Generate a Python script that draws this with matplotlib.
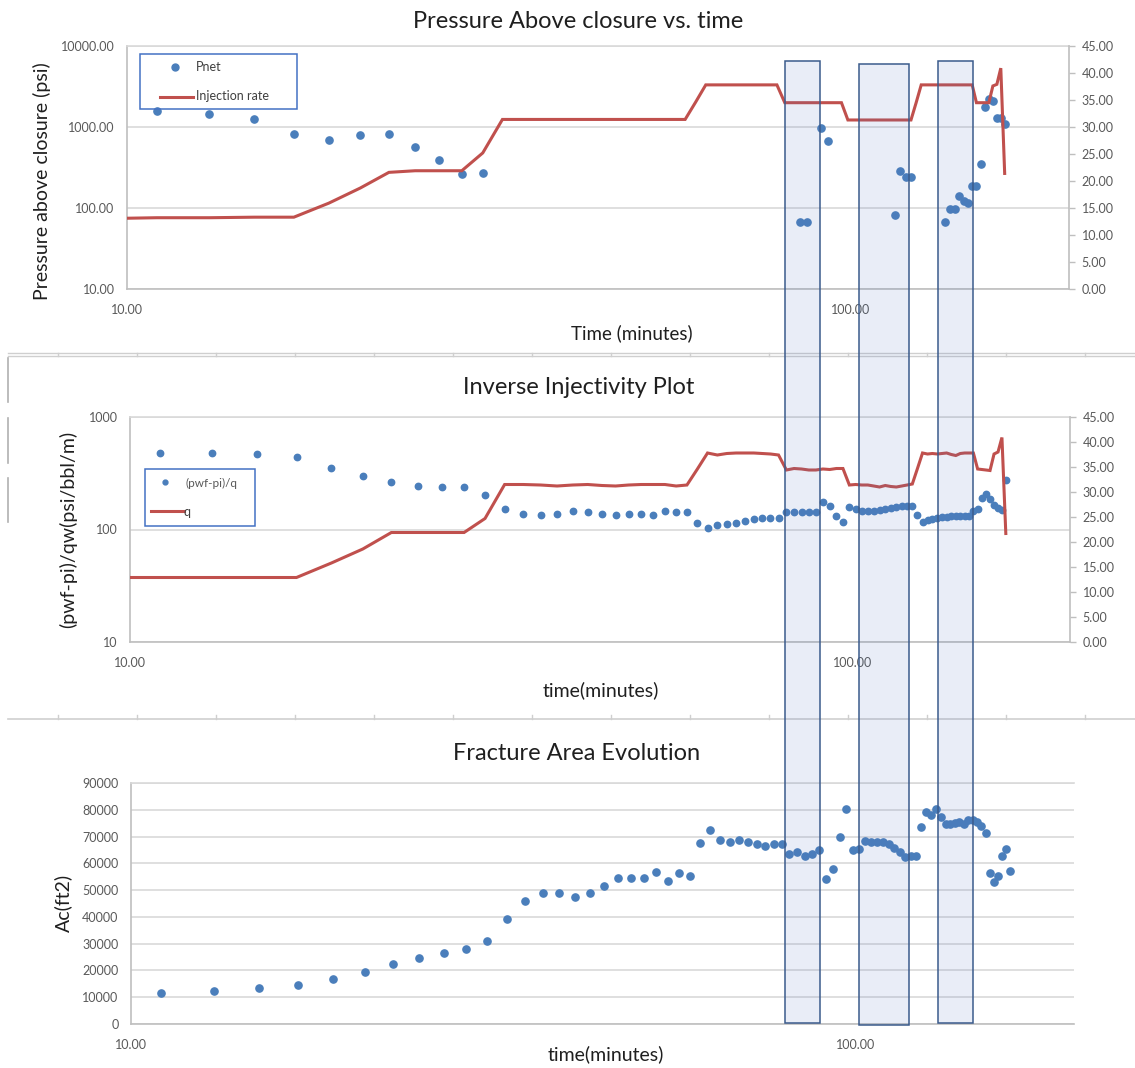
import numpy as np
import matplotlib
matplotlib.use("Agg")
import matplotlib.pyplot as plt
from matplotlib.patches import Rectangle
from matplotlib.lines import Line2D
from matplotlib.ticker import FixedLocator, FuncFormatter, NullLocator

plt.rcParams['font.family'] = ['Lato', 'DejaVu Sans']

# ---- data (time in minutes, every 2 min) ----
time_min = [11, 13, 15, 17, 19, 21, 23, 25, 27, 29, 31, 33, 35, 37, 39, 41, 43, 45, 47, 49,
            51, 53, 55, 57, 59, 61, 63, 65, 67, 69, 71, 73, 75, 77, 79, 81, 83, 85, 87, 89,
            91, 93, 95, 97, 99, 101, 103, 105, 107, 109, 111, 113, 115, 117, 119, 121, 123,
            125, 127, 129, 131, 133, 135, 137, 139, 141, 143, 145, 147, 149, 151, 153, 155,
            157, 159, 161, 163]
rate_time = [9] + time_min

# panel 1 : net pressure above closure (psi) and injection rate
pnet_time = [11, 13, 15, 17, 19, 21, 23, 25, 27, 29, 31,
             85, 87, 91, 93, 115, 117, 119, 121, 135, 137, 139, 141, 143, 145, 147, 149,
             151, 153, 155, 157, 159, 161, 163]
pnet = [1570, 1430, 1250, 830, 700, 800, 830, 560, 390, 262, 272,
        68, 68, 984, 668, 81, 285, 244, 244, 68, 97, 97, 139, 122, 115, 188, 188,
        354, 1770, 2240, 2120, 1295, 1295, 1100]
inj_rate = [13.0, 13.2, 13.2, 13.3, 13.3, 15.9, 18.7, 21.6, 21.9, 21.9, 21.9, 25.2, 31.4,
            31.4, 31.4, 31.4, 31.4, 31.4, 31.4, 31.4, 31.4, 31.4, 31.4, 31.4, 31.4, 31.4,
            34.6, 37.8, 37.8, 37.8, 37.8, 37.8, 37.8, 37.8, 37.8, 37.8,
            34.5, 34.5, 34.5, 34.5, 34.5, 34.5, 34.5, 34.5, 34.5,
            31.3, 31.3, 31.3, 31.3, 31.3, 31.3, 31.3, 31.3, 31.3, 31.3, 31.3, 31.3,
            34.5, 37.8, 37.8, 37.8, 37.8, 37.8, 37.8, 37.8, 37.8, 37.8, 37.8, 37.8, 37.8,
            34.5, 34.5, 34.5, 34.5, 37.6, 37.9, 40.9, 21.4]

# panel 2 : inverse injectivity (psi/bbl/m) and q
inv_inj = [483, 483, 467, 439, 351, 298, 262, 246, 238, 238, 202, 151, 138, 134, 138,
           147, 142, 138, 134, 138, 138, 134, 147, 142, 143, 114, 104, 110, 113, 114,
           119, 123, 126, 126, 126, 144, 144, 144, 144, 144, 176, 163, 133, 117, 157,
           152, 147, 147, 147, 149, 151, 154, 157, 163, 163, 163, 135, 117, 121, 123,
           126, 128, 130, 133, 133, 133, 133, 133, 145, 152, 192, 206, 188, 165, 155,
           149, 275]
q_rate = [12.9, 12.9, 12.9, 12.9, 12.9, 15.8, 18.6, 21.9, 21.9, 21.9, 21.9, 24.7, 31.5,
          31.5, 31.4, 31.2, 31.4, 31.5, 31.3, 31.2, 31.4, 31.5, 31.5, 31.5, 31.2, 31.4,
          34.6, 37.8, 37.4, 37.7, 37.8, 37.8, 37.8, 37.7, 37.6, 37.4,
          34.4, 34.7, 34.6, 34.4, 34.4, 34.6, 34.5, 34.7, 34.7,
          31.4, 31.5, 31.4, 31.4, 31.2, 31.0, 31.3, 31.1, 31.0, 31.2, 31.4, 31.6,
          34.7, 37.8, 37.6, 37.7, 37.6, 37.7, 37.8, 37.5, 37.3, 37.7, 37.8, 37.8, 37.8,
          34.6, 34.5, 34.4, 34.3, 37.6, 38.0, 40.9, 21.7]

# panel 3 : fracture area (ft2)
frac_area = [11700, 12300, 13600, 14600, 16900, 19300, 22300, 24600, 26400, 28100,
             31100, 39300, 45800, 48800, 48800, 47500, 48800, 51600, 54600, 54600,
             54600, 56800, 53400, 56400, 55200, 67600, 72400, 68700, 68100, 68700,
             68100, 67100, 66500, 67100, 67100, 63500, 64400, 62800, 63500, 64800,
             54000, 57800, 70000, 80200, 64800, 65400, 68400, 67800, 67800, 67800,
             67100, 65900, 64400, 62300, 62900, 62900, 73500, 79000, 78100, 80200,
             77200, 74800, 74800, 75000, 75600, 74800, 76200, 76000, 75400, 73800,
             71200, 56500, 52900, 55200, 62800, 65200, 57200]

# ---- style ----
W, H = 1135, 1068
BLUE = '#4a7ebb'
RED = '#c0504d'
GRID = '#d9d9d9'
AXC = '#bfbfbf'
TICKC = '#595959'
TXT = '#1f1f1f'


def fig_box(x0, y0, x1, y1):
    return [x0 / W, 1 - y1 / H, (x1 - x0) / W, (y1 - y0) / H]


def fx(x):
    return x / W


def fy(y):
    return 1 - y / H


two_dec = FuncFormatter(lambda v, p: f'{v:.2f}')


def base_style(ax):
    ax.set_xscale('log')
    ax.set_xlim(10, 200)
    ax.xaxis.set_major_locator(FixedLocator([10, 100]))
    ax.xaxis.set_major_formatter(two_dec)
    ax.xaxis.set_minor_locator(NullLocator())
    ax.tick_params(axis='x', length=0, pad=11, labelsize=9, labelcolor=TICKC)
    ax.tick_params(axis='y', length=0, pad=9, labelsize=9, labelcolor=TICKC)
    ax.grid(axis='y', which='major', color=GRID, lw=1.2)
    ax.set_axisbelow(True)
    ax.spines['left'].set_color(AXC)
    ax.spines['bottom'].set_color(AXC)
    ax.spines['top'].set_color(GRID)
    ax.spines['right'].set_visible(False)
    for s in ax.spines.values():
        s.set_linewidth(1.2)


def right_axis(ax, t, q):
    axr = ax.twinx()
    axr.plot(t, q, color=RED, lw=2.2, solid_joinstyle='miter')
    axr.set_ylim(0, 45)
    axr.yaxis.set_major_locator(FixedLocator(np.arange(0, 46, 5)))
    axr.yaxis.set_major_formatter(two_dec)
    axr.tick_params(axis='y', length=4, width=1, color=AXC, pad=5,
                    labelsize=9, labelcolor=TICKC)
    for side in ['left', 'top', 'bottom']:
        axr.spines[side].set_visible(False)
    axr.spines['right'].set_color(AXC)
    axr.spines['right'].set_linewidth(1.2)
    return axr


fig = plt.figure(figsize=(W / 100, H / 100), dpi=100)

# ---- panel 1 ----
ax1 = fig.add_axes(fig_box(127, 46, 1069, 289))
base_style(ax1)
ax1.set_yscale('log')
ax1.set_ylim(10, 10000)
ax1.yaxis.set_major_locator(FixedLocator([10, 100, 1000, 10000]))
ax1.yaxis.set_major_formatter(two_dec)
ax1.yaxis.set_minor_locator(NullLocator())
ax1.plot(pnet_time, pnet, 'o', ms=5.2, color=BLUE, ls='none')
right_axis(ax1, rate_time, inj_rate)
ax1.set_ylabel('Pressure above closure (psi)', fontsize=14, color=TXT)
ax1.yaxis.set_label_coords(-0.081, 0.444)
ax1.set_xlabel('Time (minutes)', fontsize=13.5, color=TXT)
ax1.xaxis.set_label_coords(0.536, -0.144)
fig.text(fx(578), fy(21), 'Pressure Above closure vs. time', fontsize=17,
         color=TXT, ha='center', va='center')

# ---- panel 2 ----
ax2 = fig.add_axes(fig_box(130, 417, 1070, 642))
base_style(ax2)
ax2.set_yscale('log')
ax2.set_ylim(10, 1000)
ax2.yaxis.set_major_locator(FixedLocator([10, 100, 1000]))
ax2.yaxis.set_major_formatter(FuncFormatter(lambda v, p: f'{v:.0f}'))
ax2.yaxis.set_minor_locator(NullLocator())
ax2.plot(time_min, inv_inj, 'o', ms=4.6, color=BLUE, ls='none')
right_axis(ax2, rate_time, q_rate)
ax2.set_ylabel('(pwf-pi)/qw(psi/bbl/m)', fontsize=14, color=TXT)
ax2.yaxis.set_label_coords(-0.056, 0.5)
ax2.set_xlabel('time(minutes)', fontsize=14, color=TXT)
ax2.xaxis.set_label_coords(0.501, -0.173)
fig.text(fx(579), fy(387), 'Inverse Injectivity Plot', fontsize=17,
         color=TXT, ha='center', va='center')

# ---- panel 3 ----
ax3 = fig.add_axes(fig_box(131, 783, 1074, 1024))
base_style(ax3)
ax3.set_ylim(0, 90000)
ax3.yaxis.set_major_locator(FixedLocator(np.arange(0, 90001, 10000)))
ax3.yaxis.set_major_formatter(FuncFormatter(lambda v, p: f'{v:.0f}'))
ax3.spines['bottom'].set_color(AXC)
ax3.plot(time_min, frac_area, 'o', ms=5.2, color=BLUE, ls='none')
ax3.set_ylabel('Ac(ft2)', fontsize=14, color=TXT)
ax3.yaxis.set_label_coords(-0.0625, 0.502)
ax3.set_xlabel('time(minutes)', fontsize=14, color=TXT)
ax3.xaxis.set_label_coords(0.503, -0.089)
fig.text(fx(577), fy(753), 'Fracture Area Evolution', fontsize=17,
         color=TXT, ha='center', va='center')

# ---- legends (drawn as in the screenshot) ----
tf = fig.transFigure
fig.add_artist(Rectangle((fx(140), fy(109)), (297 - 140) / W, (109 - 54) / H,
                         transform=tf, fill=False, ec='#4472c4', lw=1.1))
fig.add_artist(Line2D([fx(175)], [fy(67)], marker='o', ms=5, color=BLUE, transform=tf))
fig.text(fx(196), fy(67), 'Pnet', fontsize=9, color='#404040', va='center')
fig.add_artist(Line2D([fx(160), fx(193)], [fy(97), fy(97)], color=RED, lw=2.2, transform=tf))
fig.text(fx(196), fy(96), 'Injection rate', fontsize=9, color='#404040', va='center')

fig.add_artist(Rectangle((fx(145), fy(526)), (255 - 145) / W, (526 - 469) / H,
                         transform=tf, fill=False, ec='#4472c4', lw=1.1))
fig.add_artist(Line2D([fx(165)], [fy(482)], marker='o', ms=3.5, color=BLUE, transform=tf))
fig.text(fx(186), fy(483), '(pwf-pi)/q', fontsize=8.5, color='#595959', va='center')
fig.add_artist(Line2D([fx(151), fx(184)], [fy(511), fy(511)], color=RED, lw=2.2, transform=tf))
fig.text(fx(184), fy(512), 'q', fontsize=9, color='#404040', va='center')

# ---- spreadsheet cell borders left in the screenshot ----
SHEET = '#cfcfcf'
for yy in (353, 356):
    fig.add_artist(Line2D([fx(8), fx(W)], [fy(yy), fy(yy)], color=SHEET, lw=1, transform=tf))
fig.add_artist(Line2D([fx(8), fx(W)], [fy(719), fy(719)], color=SHEET, lw=1.2, transform=tf))
for xx in np.arange(58, W, 79):
    fig.add_artist(Line2D([fx(xx), fx(xx)], [fy(353), fy(356)], color=SHEET, lw=1, transform=tf))
    fig.add_artist(Line2D([fx(xx), fx(xx)], [fy(715), fy(719)], color=SHEET, lw=1, transform=tf))
for y0, y1 in [(358, 402), (418, 463), (478, 522)]:
    fig.add_artist(Line2D([fx(8), fx(8)], [fy(y0), fy(y1)], color='#b0b0b0', lw=1.2, transform=tf))

# ---- highlight boxes spanning all three charts ----
for x0, y0, x1, y1 in [(785, 61, 820, 1023), (859, 64, 909, 1025), (938, 61, 973, 1023)]:
    fig.add_artist(Rectangle((fx(x0), fy(y1)), (x1 - x0) / W, (y1 - y0) / H,
                             transform=tf, facecolor=(0.30, 0.45, 0.75, 0.12),
                             edgecolor='#3b5b8c', lw=1.1, zorder=10))

fig.savefig('out.png', dpi=100)
